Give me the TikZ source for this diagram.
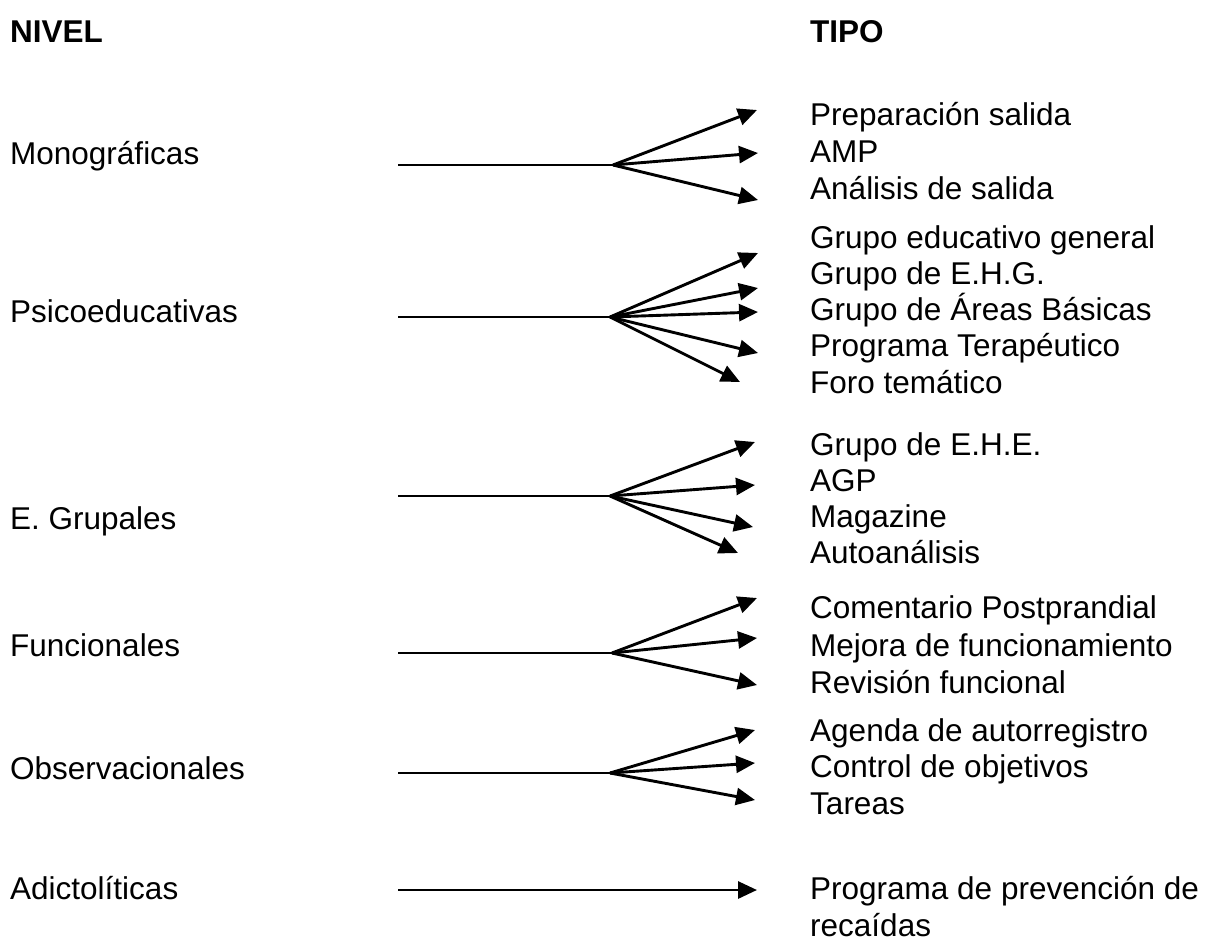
\documentclass[tikz,border=0pt]{standalone}
\usepackage{fontspec}
\setmainfont{Liberation Sans}
\usetikzlibrary{arrows.meta}

\begin{document}
\begin{tikzpicture}[x=1pt,y=1pt,yscale=-1,xscale=1,
    rotulo/.style={anchor=base west,inner sep=0pt,font=\fontsize{31.5}{38}\selectfont},
    titulo/.style={rotulo,font=\fontsize{31.5}{38}\selectfont\bfseries},
    tramo/.style={line width=2.9pt},
    flecha/.style={line width=2.9pt,-{Triangle[length=19pt,width=17pt]}}]
    \useasboundingbox (0,0) rectangle (1214,943);

    % Text Node
    \node [titulo] (nivel) at (10,42) {NIVEL};
    % Text Node
    \node [titulo] (tipo) at (810,42) {TIPO};

    % Text Node
    \node [rotulo] (mono) at (10,164) {Monográficas};
    \node [rotulo] (psico) at (10,322) {Psicoeducativas};
    \node [rotulo] (grup) at (10,529) {E. Grupales};
    \node [rotulo] (func) at (10,656) {Funcionales};
    \node [rotulo] (obs) at (10,779) {Observacionales};
    \node [rotulo] (adic) at (10,899) {Adictolíticas};

    % Text Node
    \node [rotulo] (prep) at (810,125) {Preparación salida};
    \node [rotulo] (amp) at (810,162) {AMP};
    \node [rotulo] (anal) at (810,199) {Análisis de salida};
    % Text Node
    \node [rotulo] (geg) at (810,248) {Grupo educativo general};
    \node [rotulo] (ehg) at (810,284) {Grupo de E.H.G.};
    \node [rotulo] (gab) at (810,320) {Grupo de Áreas Básicas};
    \node [rotulo] (prt) at (810,356) {Programa Terapéutico};
    \node [rotulo] (foro) at (810,393) {Foro temático};
    % Text Node
    \node [rotulo] (ehe) at (810,455) {Grupo de E.H.E.};
    \node [rotulo] (agp) at (810,491) {AGP};
    \node [rotulo] (mag) at (810,527) {Magazine};
    \node [rotulo] (auto) at (810,563) {Autoanálisis};
    % Text Node
    \node [rotulo] (post) at (810,618) {Comentario Postprandial};
    \node [rotulo] (mej) at (810,656) {Mejora de funcionamiento};
    \node [rotulo] (rev) at (810,693) {Revisión funcional};
    % Text Node
    \node [rotulo] (agen) at (810,741) {Agenda de autorregistro};
    \node [rotulo] (ctrl) at (810,777) {Control de objetivos};
    \node [rotulo] (tar) at (810,814) {Tareas};
    % Text Node
    \node [rotulo] (prev) at (810,899) {Programa de prevención de};
    \node [rotulo] (reca) at (810,936) {recaídas};

    % Monograficas
    \coordinate (m0) at (398,165);
    \coordinate (mj) at (613,165);
    \coordinate (m1) at (757,110);
    \coordinate (m2) at (758,153);
    \coordinate (m3) at (758,200);
    \draw [tramo] (m0) -- (mj);
    \draw [flecha] (mj) -- (m1);
    \draw [flecha] (mj) -- (m2);
    \draw [flecha] (mj) -- (m3);

    % Psicoeducativas
    \coordinate (p0) at (398,317);
    \coordinate (pj) at (610,317);
    \coordinate (p1) at (758,253);
    \coordinate (p2) at (758,288);
    \coordinate (p3) at (758,312);
    \coordinate (p4) at (758,353);
    \coordinate (p5) at (740,382);
    \draw [tramo] (p0) -- (pj);
    \draw [flecha] (pj) -- (p1);
    \draw [flecha] (pj) -- (p2);
    \draw [flecha] (pj) -- (p3);
    \draw [flecha] (pj) -- (p4);
    \draw [flecha] (pj) -- (p5);

    % E. Grupales
    \coordinate (g0) at (398,496);
    \coordinate (gj) at (610,496);
    \coordinate (g1) at (755,442);
    \coordinate (g2) at (755,485);
    \coordinate (g3) at (753,527);
    \coordinate (g4) at (738,553);
    \draw [tramo] (g0) -- (gj);
    \draw [flecha] (gj) -- (g1);
    \draw [flecha] (gj) -- (g2);
    \draw [flecha] (gj) -- (g3);
    \draw [flecha] (gj) -- (g4);

    % Funcionales
    \coordinate (f0) at (398,653);
    \coordinate (fj) at (612,653);
    \coordinate (f1) at (757,598);
    \coordinate (f2) at (757,638);
    \coordinate (f3) at (757,685);
    \draw [tramo] (f0) -- (fj);
    \draw [flecha] (fj) -- (f1);
    \draw [flecha] (fj) -- (f2);
    \draw [flecha] (fj) -- (f3);

    % Observacionales
    \coordinate (o0) at (398,773);
    \coordinate (oj) at (610,773);
    \coordinate (o1) at (755,730);
    \coordinate (o2) at (755,763);
    \coordinate (o3) at (755,800);
    \draw [tramo] (o0) -- (oj);
    \draw [flecha] (oj) -- (o1);
    \draw [flecha] (oj) -- (o2);
    \draw [flecha] (oj) -- (o3);

    % Adictoliticas
    \coordinate (a0) at (398,890);
    \coordinate (a1) at (757,890);
    \draw [flecha] (a0) -- (a1);

\end{tikzpicture}
\end{document}
